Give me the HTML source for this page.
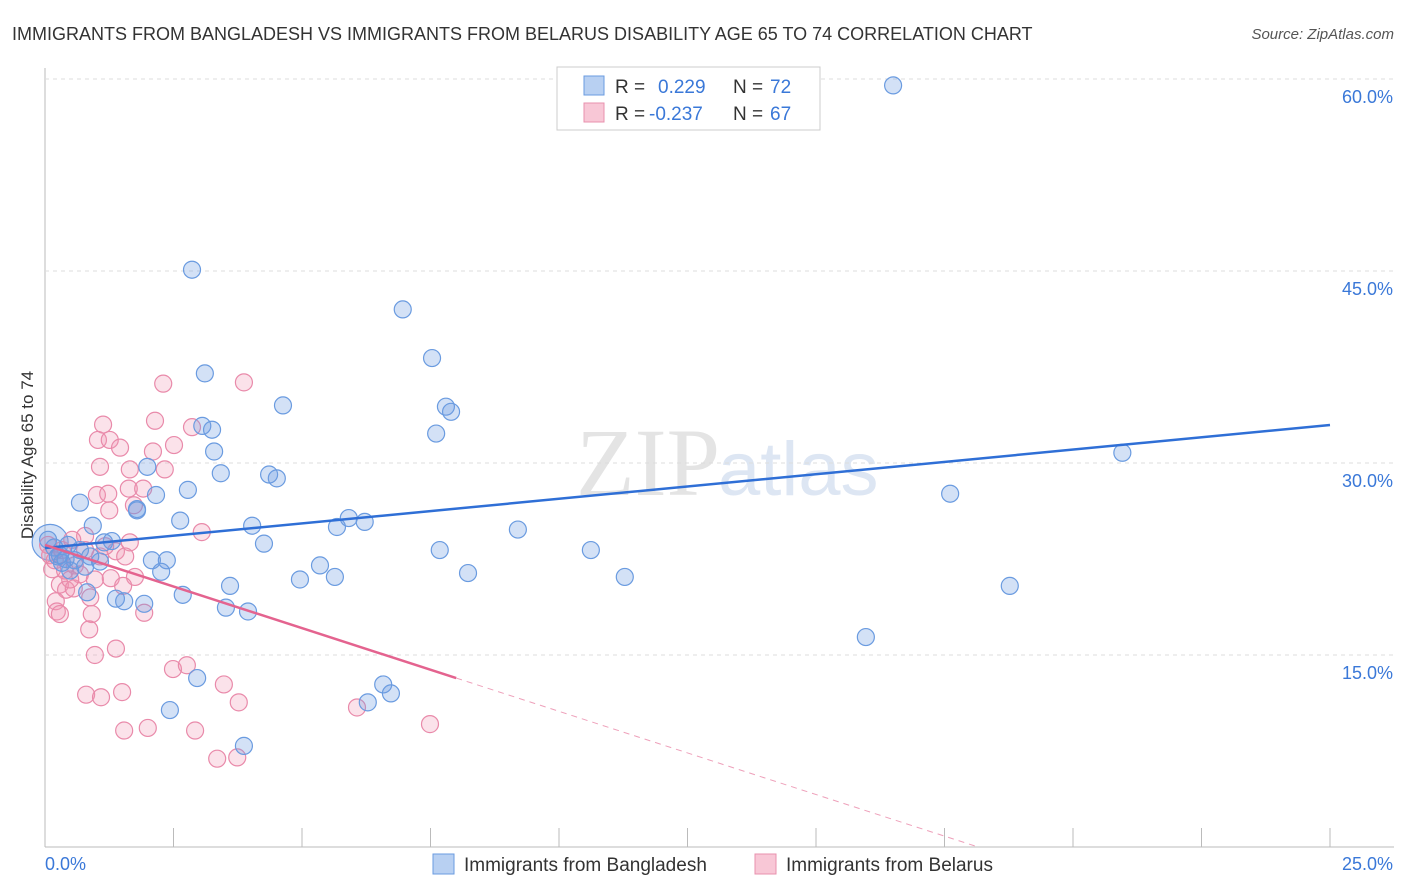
<!DOCTYPE html>
<html><head><meta charset="utf-8"><style>
body{margin:0;background:#fff;font-family:"Liberation Sans",sans-serif;}
svg{display:block}
</style></head><body>
<svg id="chart" width="1406" height="892">
<text x="12" y="40" font-size="18" fill="#333">IMMIGRANTS FROM BANGLADESH VS IMMIGRANTS FROM BELARUS DISABILITY AGE 65 TO 74 CORRELATION CHART</text>
<text x="1394" y="39" font-size="15" fill="#555" font-style="italic" text-anchor="end">Source: ZipAtlas.com</text>
<text x="720" y="495" font-size="96" fill="#e4e4e4" text-anchor="end" font-family="Liberation Serif">ZIP</text>
<text x="718" y="495" font-size="76" fill="#dde6f3">atlas</text>
<text transform="translate(33,455) rotate(-90)" font-size="17" fill="#333" text-anchor="middle">Disability Age 65 to 74</text>
<g id="grid"></g><g id="pts"></g><g id="lines"></g>
<g>
<rect x="557" y="67" width="263" height="63" fill="#fff" stroke="#ccc"/>
<rect x="584" y="76" width="20" height="19" fill="#b8d0f2" stroke="#6a9be0"/>
<text x="615" y="93" font-size="19" fill="#333">R = </text><text x="658" y="93" font-size="19" fill="#3a78d8">0.229</text>
<text x="733" y="93" font-size="19" fill="#333">N = </text><text x="770" y="93" font-size="19" fill="#3a78d8">72</text>
<rect x="584" y="103" width="20" height="19" fill="#f8c7d6" stroke="#e890ae"/>
<text x="615" y="120" font-size="19" fill="#333">R = </text><text x="649" y="120" font-size="19" fill="#3a78d8">-0.237</text>
<text x="733" y="120" font-size="19" fill="#333">N = </text><text x="770" y="120" font-size="19" fill="#3a78d8">67</text>
</g>
<g>
<rect x="433" y="854" width="21" height="20" fill="#b8d0f2" stroke="#6a9be0"/>
<text x="464" y="871" font-size="19" fill="#333">Immigrants from Bangladesh</text>
<rect x="755" y="854" width="21" height="20" fill="#f8c7d6" stroke="#e890ae"/>
<text x="786" y="871" font-size="19" fill="#333">Immigrants from Belarus</text>
</g>
</svg>
<script>
const yTicks=[15,30,45,60];
const yTickLabels=["15.0%","30.0%","45.0%","60.0%"];
const xTicks=[0,2.5,5,7.5,10,12.5,15,17.5,20,22.5,25];
const blueX=[16.5,2.86,6.96,7.53,3.11,4.63,7.8,7.9,7.61,3.06,3.25,3.29,1.99,3.42,4.36,4.51,2.16,2.78,0.68,1.79,1.79,2.63,0.93,4.03,5.68,5.91,6.22,9.2,4.26,7.68,10.62,1.3,1.15,0.18,0.29,2.08,2.37,1.07,5.35,8.23,11.28,4.96,5.64,2.26,3.6,2.68,1.54,1.93,3.52,3.95,1.38,0.82,17.61,20.96,18.77,15.97,2.96,6.58,6.73,6.28,2.43,3.87,0.49,0.58,0.68,0.45,0.33,0.88,0.78,0.25,0.06,0.4];
const blueY=[59.5,45.1,42.0,38.2,37.0,34.5,34.4,34.0,32.3,32.9,32.6,30.9,29.7,29.2,29.1,28.8,27.5,27.9,26.9,26.4,26.3,25.5,25.1,25.1,25.0,25.7,25.4,24.8,23.7,23.2,23.2,23.9,23.8,23.4,22.8,22.4,22.4,22.3,22.0,21.4,21.1,20.9,21.1,21.5,20.4,19.7,19.2,19.0,18.7,18.4,19.4,19.9,27.6,30.8,20.4,16.4,13.2,12.7,12.0,11.3,10.7,7.9,21.6,22.4,23.2,23.6,22.2,22.7,21.9,22.7,24.0,22.5];
const pinkX=[2.3,3.87,2.14,2.86,1.13,1.03,1.26,1.46,2.51,2.1,1.65,2.33,1.07,1.01,1.23,1.63,1.91,1.73,1.25,3.05,0.78,1.65,1.38,1.07,1.56,1.75,1.28,1.52,0.29,0.41,0.56,0.88,0.21,0.23,0.29,0.91,1.93,0.86,0.97,1.38,2.49,2.76,3.48,0.8,1.09,1.5,3.77,6.07,7.49,1.54,2.0,2.92,3.35,3.74,0.1,0.19,0.39,0.58,0.68,0.49,0.33,0.06,0.14,0.97,0.78,0.53,1.17];
const pinkY=[36.2,36.3,33.3,32.8,33.0,31.8,31.8,31.2,31.4,30.9,29.5,29.5,29.7,27.5,27.6,28.0,28.0,26.7,26.3,24.6,24.3,23.8,23.1,22.7,22.7,21.1,21.0,20.4,20.5,20.1,20.2,19.5,19.2,18.4,18.2,18.2,18.3,17.0,15.0,15.5,13.9,14.2,12.7,11.9,11.7,12.1,11.3,10.9,9.6,9.1,9.3,9.1,6.9,7.0,22.8,22.4,21.6,22.0,21.3,20.9,23.2,23.6,21.7,20.9,23.2,24.0,23.5];
const blueFit=[23.36,32.97];
const pinkFit=[23.6,-1.3];
const NS="http://www.w3.org/2000/svg";
const X0=45,X1=1330,Y0=847,PY=12.8;
const sx=v=>X0+(v/25)*(X1-X0);
const sy=v=>Y0-v*PY;
function mk(t,a,p){const e=document.createElementNS(NS,t);for(const k in a)e.setAttribute(k,a[k]);p.appendChild(e);return e;}
const grid=document.getElementById('grid');
mk('line',{x1:X0,y1:68,x2:X0,y2:847,stroke:'#bbb'},grid);
mk('line',{x1:X0,y1:847,x2:1394,y2:847,stroke:'#bbb'},grid);
yTicks.forEach((t,i)=>{
 const l=mk('line',{x1:X0,y1:sy(t),x2:1394,y2:sy(t),stroke:'#ddd','stroke-dasharray':'4,4'},grid);
 
 
 const tx=mk('text',{x:1393,y:sy(t)+24,'font-size':18,fill:'#3a78d8','text-anchor':'end'},grid);
 tx.textContent=yTickLabels[i];
 
 
});
xTicks.forEach(t=>{
 const l=mk('line',{x1:sx(t),y1:828,x2:sx(t),y2:847,stroke:'#bbb'},grid);
 
 
});
const xl=mk('text',{x:45,y:870,'font-size':18,fill:'#3a78d8'},grid);xl.textContent='0.0%';


const xr=mk('text',{x:1393,y:870,'font-size':18,fill:'#3a78d8','text-anchor':'end'},grid);xr.textContent='25.0%';


const pts=document.getElementById('pts');
const bigB=mk('circle',{cx:sx(0.1),cy:sy(23.8),r:18,fill:'rgba(110,155,225,0.3)',stroke:'#6a9be0','stroke-width':1.2},pts);


pinkX.forEach((v,i)=>{
 const c=mk('circle',{cx:sx(v),cy:sy(pinkY[i]),r:8.5,fill:'rgba(242,150,180,0.28)',stroke:'#e98aaa','stroke-width':1.2},pts);
 
 
});
blueX.forEach((v,i)=>{
 const c=mk('circle',{cx:sx(v),cy:sy(blueY[i]),r:8.5,fill:'rgba(110,155,225,0.3)',stroke:'#6a9be0','stroke-width':1.2},pts);
 
 
});
const lines=document.getElementById('lines');
const bl=mk('line',{x1:sx(0),y1:sy(blueFit[0]),x2:sx(25),y2:sy(blueFit[1]),stroke:'#2f6fd6','stroke-width':2.5},lines);


const pe=8.0, pz=-pinkFit[0]/pinkFit[1];
const pl=mk('line',{x1:sx(0),y1:sy(pinkFit[0]),x2:sx(pe),y2:sy(pinkFit[0]+pinkFit[1]*pe),stroke:'#e4638f','stroke-width':2.5},lines);


const pd=mk('line',{x1:sx(pe),y1:sy(pinkFit[0]+pinkFit[1]*pe),x2:sx(pz),y2:sy(0),stroke:'#eea0ba','stroke-width':1,'stroke-dasharray':'6,5'},lines);


</script>
</body></html>
